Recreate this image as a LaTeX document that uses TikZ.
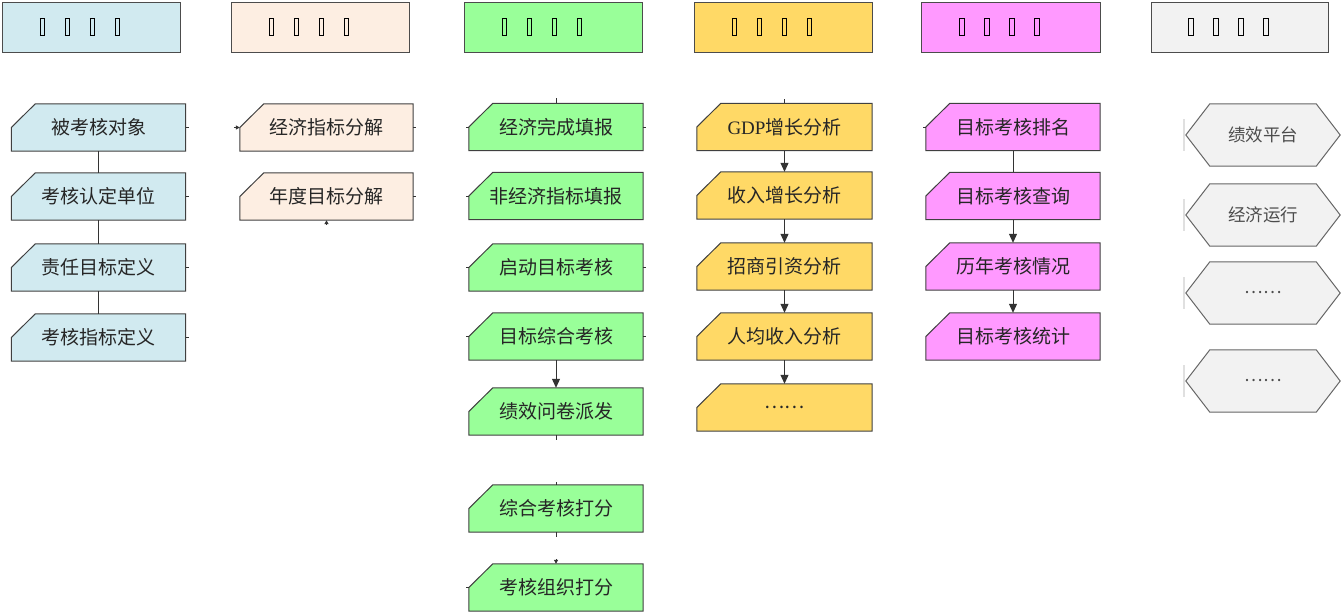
\documentclass[tikz,border=0pt]{standalone}
\usepackage{fontspec}
\usepackage{tikz}
\usetikzlibrary{arrows.meta,backgrounds}
\newfontfamily\cjk{Noto Sans CJK SC}
\newfontfamily\latinserif{Liberation Serif}
\newcommand\tofu{\makebox[25pt]{\setlength\fboxsep{0pt}\setlength\fboxrule{0.9pt}\fbox{\rule{0pt}{15.5pt}\hspace{3.5pt}}}}
\newcommand\headtext{\tofu\tofu\tofu\tofu\kern22pt}
\definecolor{cblue}{RGB}{209,234,240}
\definecolor{cpeach}{RGB}{253,238,226}
\definecolor{cgreen}{RGB}{153,255,153}
\definecolor{cyellow}{RGB}{255,217,102}
\definecolor{cpink}{RGB}{255,153,255}
\definecolor{cgrey}{RGB}{242,242,242}
\tikzset{
  head/.style={rectangle, draw=black!70, line width=1pt, minimum width=178pt, minimum height=50pt, inner sep=0pt},
  cbox/.style={rectangle, minimum width=174pt, minimum height=47pt, inner sep=0pt, text=black!85, font=\cjk\fontsize{19}{19}\selectfont},
  hexa/.style={rectangle, minimum width=154pt, minimum height=62pt, inner sep=0pt, text=black!70, font=\cjk\fontsize{17.5}{17.5}\selectfont},
  outline/.style={draw=black!75, line width=1pt, line join=miter},
  link/.style={line width=1pt, black!80},
  arr/.style={link, -{Triangle[length=9pt,width=8pt]}},
  tip/.style={link, -{Triangle[length=4pt,width=4pt]}},
}
\begin{document}
\begin{tikzpicture}[x=1pt, y=-1pt]
  \useasboundingbox (0,0) rectangle (1343,614);

  \node[head, fill=cblue]   (h1) at (91,27)     {\headtext};
  \node[head, fill=cpeach]  (h2) at (320,27)    {\headtext};
  \node[head, fill=cgreen]  (h3) at (553,27)    {\headtext};
  \node[head, fill=cyellow] (h4) at (783,27)    {\headtext};
  \node[head, fill=cpink, minimum width=179pt] (h5) at (1010.5,27) {\headtext};
  \node[head, fill=cgrey, minimum width=177pt]  (h6) at (1239.5,27) {\headtext};

  \node[cbox] (a1) at (98.5,127.5) {被考核对象};
  \node[cbox] (a2) at (98.5,196.5) {考核认定单位};
  \node[cbox] (a3) at (98.5,267.5) {责任目标定义};
  \node[cbox] (a4) at (98.5,337.5) {考核指标定义};

  \node[cbox, minimum width=173pt] (b1) at (326.5,127.5) {经济指标分解};
  \node[cbox, minimum width=173pt] (b2) at (326.5,196.5) {年度目标分解};

  \node[cbox] (c1) at (556,127)   {经济完成填报};
  \node[cbox] (c2) at (556,196)   {非经济指标填报};
  \node[cbox] (c3) at (556,267.5) {启动目标考核};
  \node[cbox] (c4) at (556,336.5) {目标综合考核};
  \node[cbox] (c5) at (556,411.5) {绩效问卷派发};
  \node[cbox] (c6) at (556,508.5) {综合考核打分};
  \node[cbox] (c7) at (556,587.5) {考核组织打分};

  \node[cbox, minimum width=175pt] (d1) at (784.5,127)   {{\latinserif GDP}增长分析};
  \node[cbox, minimum width=175pt] (d2) at (784.5,195.5) {收入增长分析};
  \node[cbox, minimum width=175pt] (d3) at (784.5,266.5) {招商引资分析};
  \node[cbox, minimum width=175pt] (d4) at (784.5,336.5) {人均收入分析};
  \node[cbox, minimum width=175pt] (d5) at (784.5,407.5) {……};

  \node[cbox] (e1) at (1013,127)   {目标考核排名};
  \node[cbox] (e2) at (1013,196)   {目标考核查询};
  \node[cbox] (e3) at (1013,266.5) {历年考核情况};
  \node[cbox] (e4) at (1013,336.5) {目标考核统计};

  \node[hexa] (f1) at (1263,135) {绩效平台};
  \node[hexa] (f2) at (1263,215) {经济运行};
  \node[hexa] (f3) at (1263,293) {……};
  \node[hexa] (f4) at (1263,381) {……};

  \begin{scope}[on background layer]
    \foreach \n/\c in {a1/cblue, a2/cblue, a3/cblue, a4/cblue, b1/cpeach, b2/cpeach,
        c1/cgreen, c2/cgreen, c3/cgreen, c4/cgreen, c5/cgreen, c6/cgreen, c7/cgreen,
        d1/cyellow, d2/cyellow, d3/cyellow, d4/cyellow, d5/cyellow,
        e1/cpink, e2/cpink, e3/cpink, e4/cpink}
      \filldraw[outline, fill=\c] (\n.south west) -- (\n.west) -- ([xshift=24pt]\n.north west)
        -- (\n.north east) -- (\n.south east) -- cycle;
    \foreach \n in {f1, f2, f3, f4} {
      \draw[black!12, line width=1.5pt] ([xshift=-2pt, yshift=16pt]\n.west) -- ([xshift=-2pt, yshift=-16pt]\n.west);
      \filldraw[outline, draw=black!60, fill=cgrey] (\n.west) -- ([xshift=24pt]\n.north west)
        -- ([xshift=-24pt]\n.north east) -- (\n.east) -- ([xshift=-24pt]\n.south east)
        -- ([xshift=24pt]\n.south west) -- cycle;
    }
  \end{scope}

  \draw[link] (a1) -- (a2);
  \draw[link] (a2) -- (a3);
  \draw[link] (a3) -- (a4);
  \draw[arr] (c4) -- (c5);
  \foreach \i/\j in {1/2, 2/3, 3/4, 4/5}
    \draw[arr] (d\i) -- (d\j);
  \draw[link] (e1) -- (e2);
  \draw[arr] (e2) -- (e3);
  \draw[arr] (e3) -- (e4);

  \foreach \n in {a1, a2, a3, a4, b1, b2, c1, c3, c4}
    \draw[link] (\n.east) -- ++(3,0);
  \foreach \n in {c1, c2, c3, c4, c7, e1}
    \draw[link] (\n.west) -- ++(-3,0);
  \draw[tip] ([xshift=-6pt]b1.west) -- (b1.west);
  \draw[tip] ([yshift=-5pt]b2.south) -- (b2.south);
  \draw[link] ([yshift=5pt]c1.north) -- (c1.north);
  \draw[link] ([yshift=4pt]d1.north) -- (d1.north);
  \draw[link] (c5.south) -- ++(0,5);
  \draw[link] (c6.north) -- ++(0,-3);
  \draw[link] (c6.south) -- ++(0,5);
  \draw[tip] ([yshift=5pt]c7.north) -- (c7.north);
\end{tikzpicture}
\end{document}
